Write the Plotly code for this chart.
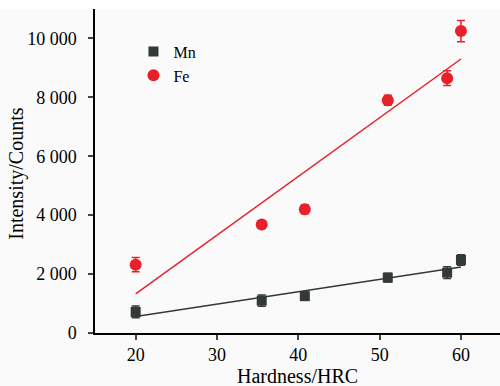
import numpy as np
import plotly.graph_objects as go

hardness = [20, 35.5, 40.8, 51, 58.3, 60]
mn_counts = [714, 1100, 1250, 1880, 2050, 2480]
mn_err = [200, 190, 130, 150, 200, 180]
fe_counts = [2320, 3680, 4200, 7900, 8650, 10250]
fe_err = [240, 130, 150, 170, 250, 360]

x_ticks = [20, 30, 40, 50, 60]
y_ticks = [0, 2000, 4000, 6000, 8000, 10000]
x_title = "Hardness/HRC"
y_title = "Intensity/Counts"

mn_color = "#333838"
fe_color = "#e8202a"
font_family = "Liberation Serif"

xs = np.array(hardness)
fit_x = np.array([min(hardness), max(hardness)])
mn_fit = np.polyval(np.polyfit(xs, mn_counts, 1), fit_x)
fe_fit = np.polyval(np.polyfit(xs, fe_counts, 1), fit_x)

fig = go.Figure()
fig.add_trace(go.Scatter(x=fit_x, y=mn_fit, mode="lines", line=dict(color=mn_color, width=1.5),
                         showlegend=False, hoverinfo="skip"))
fig.add_trace(go.Scatter(x=fit_x, y=fe_fit, mode="lines", line=dict(color=fe_color, width=1.5),
                         showlegend=False, hoverinfo="skip"))
fig.add_trace(go.Scatter(x=hardness, y=mn_counts, mode="markers", name="Mn",
                         marker=dict(symbol="square", size=10, color=mn_color),
                         error_y=dict(type="data", array=mn_err, color=mn_color, thickness=1.5, width=4)))
fig.add_trace(go.Scatter(x=hardness, y=fe_counts, mode="markers", name="Fe",
                         marker=dict(symbol="circle", size=12, color=fe_color),
                         error_y=dict(type="data", array=fe_err, color=fe_color, thickness=1.5, width=4)))

fig.update_layout(
    width=500, height=386,
    margin=dict(l=95, r=0, t=9, b=53),
    paper_bgcolor="#fafafa", plot_bgcolor="#fafafa",
    separators=". ",
    font=dict(family=font_family, color="black", size=18),
    showlegend=True,
    legend=dict(x=0.095, y=0.921, xanchor="left", yanchor="top",
                bgcolor="rgba(0,0,0,0)", font=dict(size=16), tracegroupgap=0),
    shapes=[dict(type="rect", xref="paper", yref="paper", x0=-0.3, x1=1.1, y0=1.0, y1=1.1,
                 fillcolor="white", line=dict(width=0), layer="below")],
    annotations=[
        dict(text=x_title, xref="paper", yref="paper", x=0.501, y=-0.132,
             xanchor="center", yanchor="middle", showarrow=False, font=dict(size=20)),
        dict(text=y_title, xref="paper", yref="paper", x=-0.193, y=0.491, textangle=-90,
             xanchor="center", yanchor="middle", showarrow=False, font=dict(size=20)),
    ],
)
fig.update_xaxes(range=[15, 64.8], tickvals=x_ticks, ticks="outside", ticklen=5, tickwidth=1.5,
                 showline=True, linecolor="black", linewidth=1.5, showgrid=False, zeroline=False,
                 tickfont=dict(size=18))
fig.update_yaxes(range=[0, 11000], tickvals=y_ticks, tickformat=",d", ticks="outside", ticklen=5, tickwidth=1.5,
                 showline=True, linecolor="black", linewidth=1.5, showgrid=False, zeroline=False,
                 tickfont=dict(size=18), ticklabelstandoff=8)

fig.write_html("out.html", config={"displayModeBar": False},
               post_script="document.body.style.margin='0';document.body.style.overflow='hidden';")
